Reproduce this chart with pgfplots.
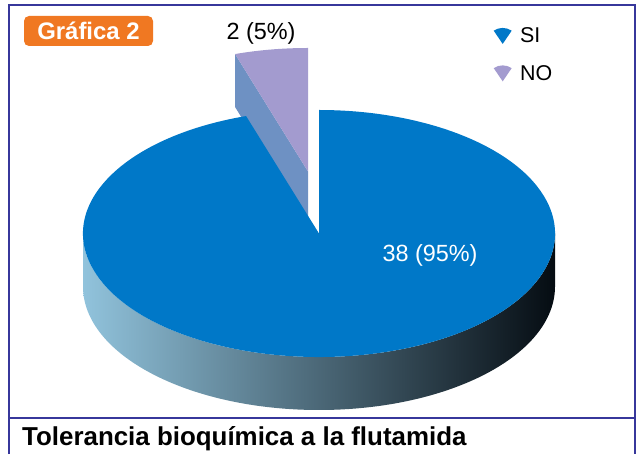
\documentclass[border=0pt]{standalone}
\usepackage{pgfplots}
\pgfplotsset{compat=1.18}
\usepackage{pgfplotstable}
\usepackage{fontspec}
\setmainfont{Liberation Sans}
\definecolor{frameblue}{RGB}{55,55,155}
\definecolor{sitop}{RGB}{0,120,200}
\definecolor{notop}{RGB}{163,155,207}
\definecolor{noface}{RGB}{110,145,195}
\definecolor{sideL}{RGB}{145,195,220}
\definecolor{sideM}{RGB}{65,105,125}
\definecolor{sideR}{RGB}{5,12,18}
\definecolor{badge}{RGB}{240,120,34}

\pgfplotstableread{
cat value
SI 38
NO 2
}\piedata

\begin{document}
\begin{tikzpicture}
\pgfplotstablegetelem{0}{value}\of\piedata \let\vSI\pgfplotsretval
\pgfplotstablegetelem{1}{value}\of\piedata \let\vNO\pgfplotsretval
\pgfmathsetmacro\aNO{360*\vNO/(\vSI+\vNO)}
\pgfmathsetmacro\aEnd{90+\aNO}
\def\cx{319}\def\cy{220.5}\def\rx{236}\def\ry{123.5}\def\dep{53}
\def\ox{-11}\def\oy{62}
% NO slice (exploded)
\pgfmathsetmacro\nax{\cx+\ox}
\pgfmathsetmacro\nay{\cy+\oy}
\pgfmathsetmacro\ntop{\nay+\ry}
\pgfmathsetmacro\nrx{\nax+\rx*cos(\aEnd)}
\pgfmathsetmacro\nry{\nay+\ry*sin(\aEnd)}
\pgfmathsetmacro\nbay{\nay-\dep}
\pgfmathsetmacro\nbry{\nry-\dep}
% SI slice
\pgfmathsetmacro\srx{\cx+\rx*cos(\aEnd)}
\pgfmathsetmacro\sry{\cy+\ry*sin(\aEnd)}
\pgfmathsetmacro\sxl{\cx-\rx}
\pgfmathsetmacro\sxr{\cx+\rx}
\pgfmathsetmacro\syb{\cy-\dep}
\begin{axis}[
  width=644bp, height=454bp, scale only axis,
  xmin=0, xmax=644, ymin=0, ymax=454,
  hide axis, clip=false,
  legend style={at={(axis cs:493.5,428)}, anchor=north west, draw=none, fill=none,
    font=\fontsize{21.5}{21.5}\selectfont, row sep=18bp, inner sep=0pt,
    nodes={inner sep=1.5bp}},
  legend cell align=left,
]
\path (axis cs:0,0) rectangle (axis cs:644,454);
\addlegendimage{legend image code/.code={\fill[sitop,draw=none] (9bp,-8bp) -- (0bp,5.23bp) arc[start angle=124.2,end angle=55.8,radius=16bp] -- cycle; \path[draw=none,fill=none] (0bp,0bp) -- (25bp,0bp);}}
\addlegendentry{SI}
\addlegendimage{legend image code/.code={\fill[notop,draw=none] (9bp,-8bp) -- (0bp,5.23bp) arc[start angle=124.2,end angle=55.8,radius=16bp] -- cycle; \path[draw=none,fill=none] (0bp,0bp) -- (25bp,0bp);}}
\addlegendentry{NO}

% exploded NO slice: radial face and top
\fill[noface] (axis cs:\nax,\nay) -- (axis cs:\nrx,\nry) -- (axis cs:\nrx,\nbry) -- (axis cs:\nax,\nbay) -- cycle;
\fill[notop] (axis cs:\nax,\nay) -- (axis cs:\nax,\ntop)
   arc[start angle=90,end angle=\aEnd,x radius=\rx bp,y radius=\ry bp] -- cycle;

% SI side
\shade[left color=sideL, middle color=sideM, right color=sideR]
  (axis cs:\sxl,\cy) -- (axis cs:\sxl,\syb)
  arc[start angle=180,end angle=360,x radius=\rx bp,y radius=\ry bp]
  -- (axis cs:\sxr,\cy)
  arc[start angle=0,end angle=-180,x radius=\rx bp,y radius=\ry bp] -- cycle;
% SI top
\fill[sitop] (axis cs:\cx,\cy) -- (axis cs:\srx,\sry)
  arc[start angle=\aEnd,end angle=450,x radius=\rx bp,y radius=\ry bp] -- cycle;

% labels
\node[anchor=base, text=white, font=\fontsize{23.5}{23.5}\selectfont, inner sep=0pt] at (axis cs:430,192) {38 (95\%)};
\node[anchor=base, font=\fontsize{23.5}{23.5}\selectfont, inner sep=0pt] at (axis cs:261,414) {2 (5\%)};

% badge
\node[fill=badge, rounded corners=5bp, text=white, font=\bfseries\fontsize{24}{24}\selectfont,
  minimum width=129bp, minimum height=30bp, inner sep=0pt] at (axis cs:88.5,423) {Gráfica 2};

% frame
\draw[frameblue, line width=2.2bp] (axis cs:9,0) -- (axis cs:9,449) -- (axis cs:635,449) -- (axis cs:635,0);
\draw[frameblue, line width=2.2bp] (axis cs:9,36) -- (axis cs:635,36);

% title
\node[anchor=base west, font=\bfseries\fontsize{26}{26}\selectfont, inner sep=0pt] at (axis cs:22,9) {Tolerancia bioquímica a la flutamida};
\end{axis}
\end{tikzpicture}
\end{document}
